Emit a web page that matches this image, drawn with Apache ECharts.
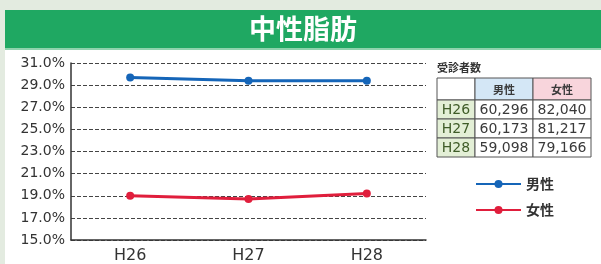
<!DOCTYPE html>
<html>
<head>
<meta charset="utf-8">
<script src="https://cdn.jsdelivr.net/npm/echarts@6/dist/echarts.min.js"></script>
<style>
html, body { margin: 0; padding: 0; background: #e3ebe0; }
#main { width: 601px; height: 264px; }
</style>
</head>
<body>
<div id="main"></div>
<script>
var years = ['H26', 'H27', 'H28'];
var maleRate = [29.7, 29.4, 29.4];
var femaleRate = [19.0, 18.7, 19.2];
var maleCount = ['60,296', '60,173', '59,098'];
var femaleCount = ['82,040', '81,217', '79,166'];
var seriesNames = ['男性', '女性'];

var chart = echarts.init(document.getElementById('main'));
var FONT = '"Noto Sans CJK JP", "DejaVu Sans", sans-serif';
var NUMFONT = '"DejaVu Sans", sans-serif';

// table of examinee counts
var tbl = [];
var colX = [437, 475, 533, 591];
var rowY = [78, 100, 119, 138, 157];
tbl.push({ type: 'text', left: 437, top: 62, style: { text: '受診者数', font: 'bold 11px ' + FONT, fill: '#333' } });
var headFill = ['#ffffff', '#d4e7f6', '#f8d5dc'];
var headText = ['', seriesNames[0], seriesNames[1]];
for (var r = 0; r < 4; r++) {
    for (var c = 0; c < 3; c++) {
        var fill = '#ffffff', txt = '', col = '#3a3a3a', font = '14px ' + NUMFONT;
        if (r === 0) { fill = headFill[c]; txt = headText[c]; font = 'bold 11px ' + FONT; }
        else if (c === 0) { fill = '#e3efd6'; txt = years[r - 1]; col = '#3f5c28'; }
        else if (c === 1) { txt = maleCount[r - 1]; }
        else { txt = femaleCount[r - 1]; }
        tbl.push({
            type: 'rect',
            shape: { x: colX[c], y: rowY[r], width: colX[c + 1] - colX[c], height: rowY[r + 1] - rowY[r] },
            style: { fill: fill, stroke: '#555', lineWidth: 1 }
        });
        tbl.push({
            type: 'text',
            x: (colX[c] + colX[c + 1]) / 2, y: (rowY[r] + rowY[r + 1]) / 2 + 1,
            style: { text: txt, font: font, fill: col, align: 'center', verticalAlign: 'middle' }
        });
    }
}

var option = {
    backgroundColor: '#e3ebe0',
    animation: false,
    graphic: [
        { type: 'rect', shape: { x: 5, y: 50, width: 596, height: 214 }, style: { fill: '#ffffff' }, z: -10 },
        { type: 'rect', shape: { x: 5, y: 10, width: 596, height: 38 }, style: { fill: '#1fa862' }, z: -10 },
        { type: 'rect', shape: { x: 5, y: 48, width: 596, height: 2 }, style: { fill: '#8fd3ad' }, z: -10 },
        { type: 'text', x: 303, y: 29, style: { text: '中性脂肪', font: 'bold 27px ' + FONT, fill: '#ffffff', align: 'center', verticalAlign: 'middle' } }
    ].concat(tbl),
    legend: {
        orient: 'vertical',
        left: 470,
        top: 172,
        itemWidth: 45,
        itemHeight: 10,
        itemGap: 12,
        textStyle: { fontSize: 14, color: '#333', fontWeight: 'bold', fontFamily: FONT },
        data: seriesNames
    },
    grid: { left: 71, right: 175, top: 63, bottom: 21 },
    xAxis: {
        type: 'category',
        data: years,
        boundaryGap: true,
        axisLine: { lineStyle: { color: '#333', width: 1.5 } },
        axisTick: { inside: true, length: 5, lineStyle: { color: '#333' } },
        axisLabel: { fontSize: 16, color: '#333', margin: 8, fontFamily: NUMFONT }
    },
    yAxis: {
        type: 'value',
        min: 15,
        max: 31,
        interval: 2,
        axisLine: { show: true, lineStyle: { color: '#333', width: 1.5 } },
        axisTick: { show: false },
        axisLabel: {
            fontSize: 14, color: '#333', margin: 6, fontFamily: NUMFONT,
            formatter: function (v) { return v.toFixed(1) + '%'; }
        },
        splitLine: { lineStyle: { color: '#444', type: [4, 2], width: 1 } }
    },
    series: [
        {
            name: seriesNames[0],
            type: 'line',
            data: maleRate,
            symbol: 'circle',
            symbolSize: 8,
            itemStyle: { color: '#1565b8' },
            lineStyle: { width: 3, color: '#1565b8' }
        },
        {
            name: seriesNames[1],
            type: 'line',
            data: femaleRate,
            symbol: 'circle',
            symbolSize: 8,
            itemStyle: { color: '#e01e3c' },
            lineStyle: { width: 3, color: '#e01e3c' }
        }
    ]
};
chart.setOption(option);
</script>
</body>
</html>
